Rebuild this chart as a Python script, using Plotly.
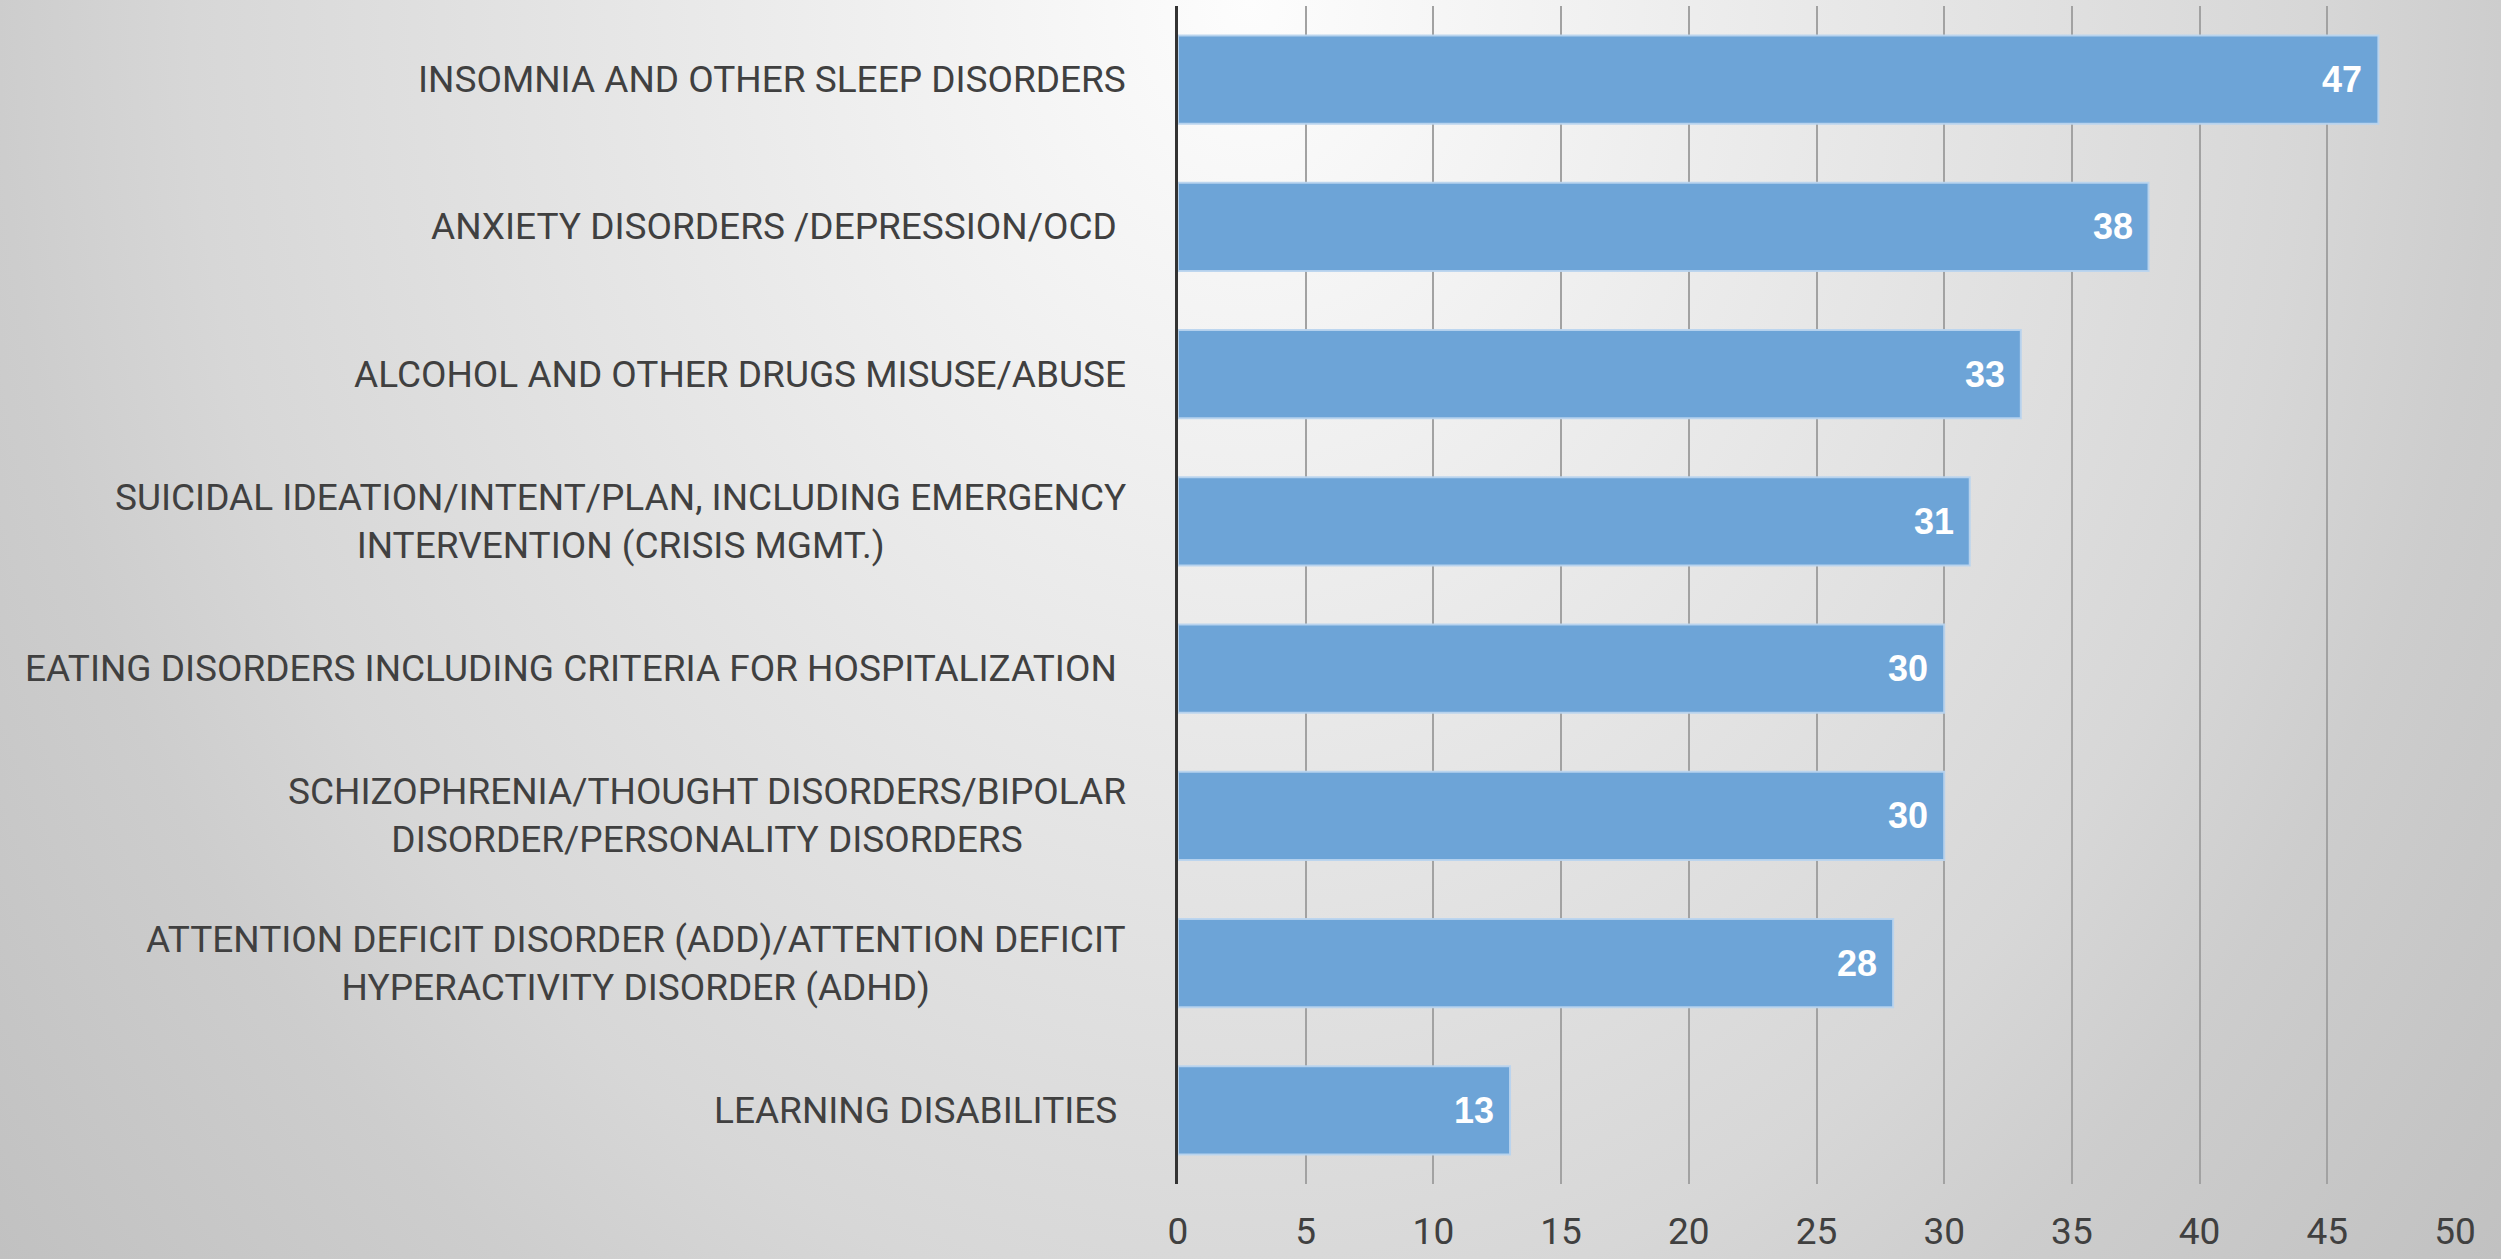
import base64
import plotly.graph_objects as go

categories = [
    "INSOMNIA AND OTHER SLEEP DISORDERS",
    "ANXIETY DISORDERS /DEPRESSION/OCD ",
    "ALCOHOL AND OTHER DRUGS MISUSE/ABUSE",
    "SUICIDAL IDEATION/INTENT/PLAN, INCLUDING EMERGENCY<br>INTERVENTION (CRISIS MGMT.)",
    "EATING DISORDERS INCLUDING CRITERIA FOR HOSPITALIZATION ",
    "SCHIZOPHRENIA/THOUGHT DISORDERS/BIPOLAR<br>DISORDER/PERSONALITY DISORDERS",
    "ATTENTION DEFICIT DISORDER (ADD)/ATTENTION DEFICIT<br>HYPERACTIVITY DISORDER (ADHD)",
    "LEARNING DISABILITIES ",
]
values = [47, 38, 33, 31, 30, 30, 28, 13]
x_ticks = [0, 5, 10, 15, 20, 25, 30, 35, 40, 45, 50]

FW, FH = 2501, 1259
ML, MR, MT, MB = 1178, 46, 6, 75
PW, PH = FW - ML - MR, FH - MT - MB

svg = f'''<svg xmlns="http://www.w3.org/2000/svg" width="{FW}" height="{FH}" viewBox="0 0 {FW} {FH}" preserveAspectRatio="none">
<defs><radialGradient id="g" gradientUnits="userSpaceOnUse" cx="1250" cy="0" r="1605" gradientTransform="scale(1,1.25)">
<stop offset="0" stop-color="#FDFDFD"/>
<stop offset="0.66" stop-color="#D7D7D7"/>
<stop offset="0.78" stop-color="#CDCDCD"/>
<stop offset="1" stop-color="#C1C1C1"/>
</radialGradient></defs>
<rect x="0" y="0" width="{FW}" height="{FH}" fill="url(#g)"/>
</svg>'''
bg_uri = "data:image/svg+xml;base64," + base64.b64encode(svg.encode()).decode()

LABEL_FONT = "Roboto, Liberation Sans, sans-serif"

fig = go.Figure()
fig.add_trace(go.Bar(
    x=values, y=categories, orientation="h",
    marker=dict(color="#6DA4D7", line=dict(color="rgba(185,212,238,0.95)", width=2)),
    hoverinfo="skip",
))

annotations = []
for c, v in zip(categories, values):
    annotations.append(dict(
        x=0, xref="paper", y=c, yref="y", text=c, showarrow=False,
        xanchor="right", yanchor="middle", xshift=-50, align="center",
        font=dict(family=LABEL_FONT, size=37, color="#404040"),
    ))
    annotations.append(dict(
        x=v, xref="x", y=c, yref="y", text=str(v), showarrow=False,
        xanchor="right", yanchor="middle", xshift=-14,
        font=dict(family="Liberation Sans, sans-serif", size=36, color="white", weight="bold"),
    ))

fig.update_layout(
    width=FW, height=FH,
    margin=dict(l=ML, r=MR, t=MT, b=MB, pad=0),
    paper_bgcolor="#D9D9D9",
    plot_bgcolor="rgba(0,0,0,0)",
    bargap=0.4,
    showlegend=False,
    annotations=annotations,
    images=[dict(
        source=bg_uri, xref="paper", yref="paper",
        x=-ML / PW, y=1 + MT / PH, sizex=FW / PW, sizey=FH / PH,
        xanchor="left", yanchor="top", sizing="stretch", layer="below",
    )],
    xaxis=dict(
        range=[0, 50], tickvals=x_ticks, showgrid=True, gridcolor="#A2A2A2", gridwidth=1.5,
        zeroline=False, showline=False, ticks="", ticklabelstandoff=22, automargin=False,
        tickfont=dict(family=LABEL_FONT, size=37, color="#404040"),
    ),
    yaxis=dict(
        autorange="reversed", showticklabels=False, showgrid=False, zeroline=False,
        showline=True, linecolor="#333333", linewidth=2.5, ticks="", automargin=False,
    ),
)

fig.write_html(
    "out.html",
    config={"displayModeBar": False},
    post_script="document.body.style.margin='0';document.body.style.overflow='hidden';",
)
